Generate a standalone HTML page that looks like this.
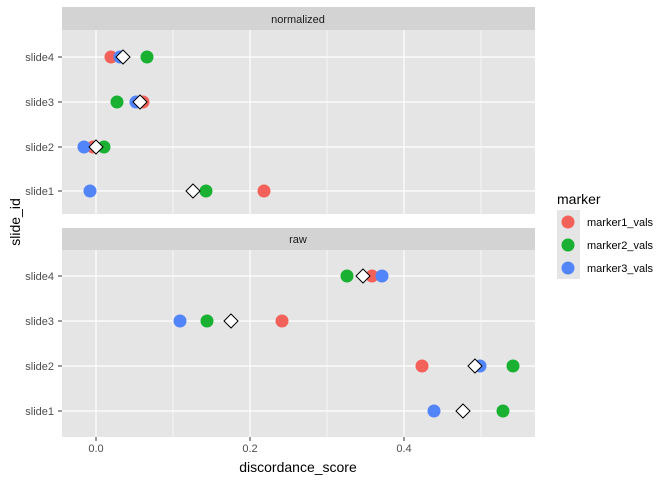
<!DOCTYPE html>
<html><head><style>body{margin:0;background:#fff}svg{display:block}text{font-family:"Liberation Sans",sans-serif}</style></head><body>
<svg width="672" height="480" xmlns="http://www.w3.org/2000/svg">
<rect width="672" height="480" fill="#fff"/>
<g id="p">
<rect x="62" y="7" width="473" height="23" fill="#d3d3d3"/>
<rect x="62" y="30" width="473" height="184" fill="#e5e5e5"/>
<rect x="62" y="228" width="473" height="22" fill="#d3d3d3"/>
<rect x="62" y="250" width="473" height="187" fill="#e5e5e5"/>
</g>
<g stroke="#fff" stroke-width="0.6">
<line x1="173" y1="30" x2="173" y2="214"/><line x1="327" y1="30" x2="327" y2="214"/><line x1="481" y1="30" x2="481" y2="214"/>
<line x1="173" y1="250" x2="173" y2="437"/><line x1="327" y1="250" x2="327" y2="437"/><line x1="481" y1="250" x2="481" y2="437"/>
</g>
<g stroke="#fff" stroke-width="1.2">
<line x1="96" y1="30" x2="96" y2="214"/><line x1="250" y1="30" x2="250" y2="214"/><line x1="404" y1="30" x2="404" y2="214"/>
<line x1="96" y1="250" x2="96" y2="437"/><line x1="250" y1="250" x2="250" y2="437"/><line x1="404" y1="250" x2="404" y2="437"/>
<line x1="62" y1="57" x2="535" y2="57"/><line x1="62" y1="102" x2="535" y2="102"/><line x1="62" y1="147" x2="535" y2="147"/><line x1="62" y1="191" x2="535" y2="191"/>
<line x1="62" y1="276" x2="535" y2="276"/><line x1="62" y1="321" x2="535" y2="321"/><line x1="62" y1="366" x2="535" y2="366"/><line x1="62" y1="411" x2="535" y2="411"/>
</g>
<g font-size="11" fill="#1a1a1a" text-anchor="middle">
<text x="298" y="23">normalized</text><text x="298" y="243">raw</text>
</g>
<g font-size="11" fill="#4d4d4d" text-anchor="end">
<text x="54" y="61">slide4</text><text x="54" y="106">slide3</text><text x="54" y="151">slide2</text><text x="54" y="195">slide1</text>
<text x="54" y="280">slide4</text><text x="54" y="325">slide3</text><text x="54" y="370">slide2</text><text x="54" y="415">slide1</text>
</g>
<g stroke="#333" stroke-width="1">
<line x1="58" y1="57" x2="62" y2="57"/><line x1="58" y1="102" x2="62" y2="102"/><line x1="58" y1="147" x2="62" y2="147"/><line x1="58" y1="191" x2="62" y2="191"/>
<line x1="58" y1="276" x2="62" y2="276"/><line x1="58" y1="321" x2="62" y2="321"/><line x1="58" y1="366" x2="62" y2="366"/><line x1="58" y1="411" x2="62" y2="411"/>
<line x1="96" y1="437" x2="96" y2="441"/><line x1="250" y1="437" x2="250" y2="441"/><line x1="404" y1="437" x2="404" y2="441"/>
</g>
<g font-size="11" fill="#4d4d4d" text-anchor="middle">
<text x="96" y="452">0.0</text><text x="250" y="452">0.2</text><text x="404" y="452">0.4</text>
</g>
<text x="298" y="472" font-size="14" text-anchor="middle" fill="#000">discordance_score</text>
<text x="0" y="0" font-size="14" text-anchor="middle" fill="#000" transform="translate(20,222) rotate(-90)">slide_id</text>
<g>
<circle cx="111" cy="57" r="6.5" fill="#F2625A"/><circle cx="147" cy="57" r="6.5" fill="#1AB132"/><circle cx="120" cy="57" r="6.5" fill="#5284FA"/>
<circle cx="143" cy="102" r="6.5" fill="#F2625A"/><circle cx="117" cy="102" r="6.5" fill="#1AB132"/><circle cx="136" cy="102" r="6.5" fill="#5284FA"/>
<circle cx="93" cy="147" r="6.5" fill="#F2625A"/><circle cx="104" cy="147" r="6.5" fill="#1AB132"/><circle cx="84" cy="147" r="6.5" fill="#5284FA"/>
<circle cx="264" cy="191" r="6.5" fill="#F2625A"/><circle cx="206" cy="191" r="6.5" fill="#1AB132"/><circle cx="90" cy="191" r="6.5" fill="#5284FA"/>
<circle cx="372" cy="276" r="6.5" fill="#F2625A"/><circle cx="347" cy="276" r="6.5" fill="#1AB132"/><circle cx="382" cy="276" r="6.5" fill="#5284FA"/>
<circle cx="282" cy="321" r="6.5" fill="#F2625A"/><circle cx="207" cy="321" r="6.5" fill="#1AB132"/><circle cx="180" cy="321" r="6.5" fill="#5284FA"/>
<circle cx="422" cy="366" r="6.5" fill="#F2625A"/><circle cx="513" cy="366" r="6.5" fill="#1AB132"/><circle cx="480" cy="366" r="6.5" fill="#5284FA"/>
<circle cx="503" cy="411" r="6.5" fill="#1AB132"/><circle cx="434" cy="411" r="6.5" fill="#5284FA"/>
</g>
<g fill="#fff" stroke="#000" stroke-width="1">
<path d="M123 50l7 7-7 7-7-7z"/><path d="M140 95l7 7-7 7-7-7z"/><path d="M96 140l7 7-7 7-7-7z"/><path d="M193 184l7 7-7 7-7-7z"/>
<path d="M363 269l7 7-7 7-7-7z"/><path d="M231 314l7 7-7 7-7-7z"/><path d="M475 359l7 7-7 7-7-7z"/><path d="M463 404l7 7-7 7-7-7z"/>
</g>
<text x="557" y="204" font-size="14" fill="#000">marker</text>
<rect x="557" y="210" width="23" height="69" fill="#e5e5e5"/>
<circle cx="568" cy="222" r="6.5" fill="#F2625A"/><circle cx="568" cy="245" r="6.5" fill="#1AB132"/><circle cx="568" cy="268" r="6.5" fill="#5284FA"/>
<g font-size="11" fill="#000"><text x="587" y="226">marker1_vals</text><text x="587" y="249">marker2_vals</text><text x="587" y="272">marker3_vals</text></g>
</svg>
</body></html>
